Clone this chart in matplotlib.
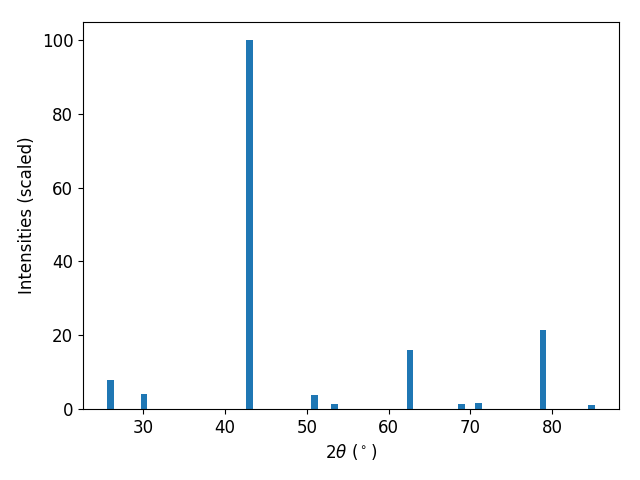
import numpy as np
import matplotlib
matplotlib.use('Agg')
import matplotlib.pyplot as plt

# peak positions (2theta, deg) and scaled intensities
two_theta = [26.0, 30.1, 43.0, 50.95, 53.4, 62.6, 68.9, 71.0, 78.9, 84.8]
intensity = [7.9, 4.1, 100.0, 3.8, 1.35, 16.0, 1.35, 1.6, 21.4, 1.1]

plt.rcParams['font.size'] = 12

fig, ax = plt.subplots(figsize=(6.4, 4.8), dpi=100)
ax.bar(two_theta, intensity)

ax.set_xlabel(r'2$\theta$ ($^\circ$)')
ax.set_ylabel('Intensities (scaled)')

fig.subplots_adjust(left=83/640, right=619/640, top=1-21.5/480, bottom=1-409/480)
fig.savefig('out.png')
